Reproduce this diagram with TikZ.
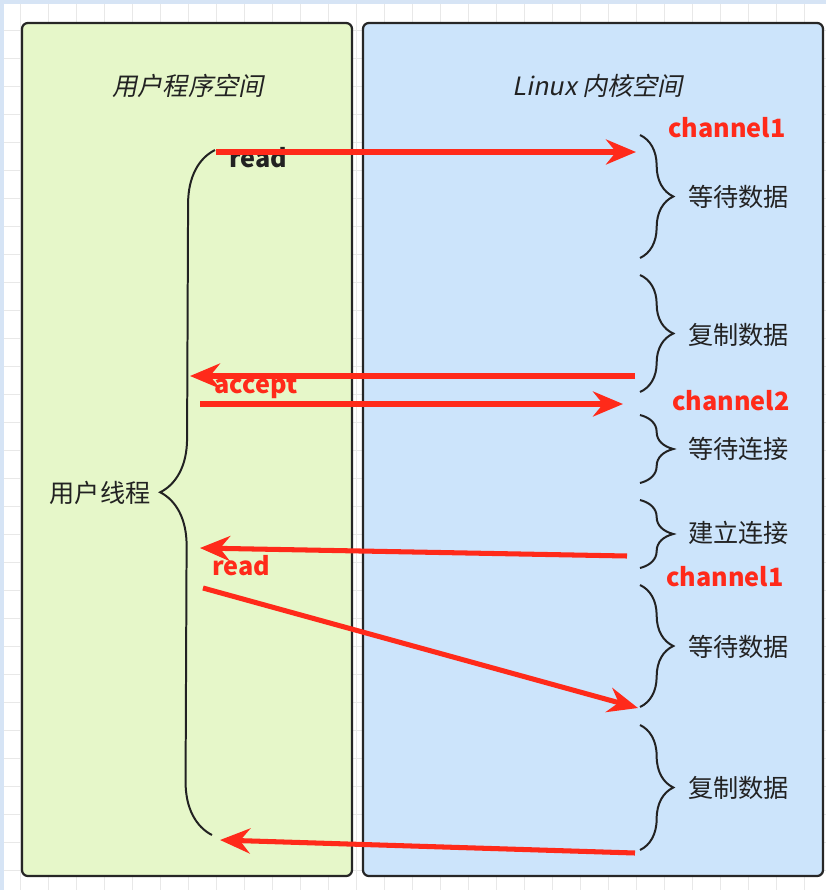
\documentclass[tikz,border=0pt]{standalone}
\usepackage{fontspec}
\usetikzlibrary{arrows.meta,decorations.pathreplacing}
\newfontfamily\cjk{Noto Sans CJK SC}
\newfontfamily\cjkit{Noto Sans CJK SC}[FakeSlant=0.2]
\definecolor{userfill}{HTML}{E6F7C9}
\definecolor{kernfill}{HTML}{CCE4FB}
\definecolor{arrowred}{HTML}{FF2A1A}
\definecolor{textgray}{HTML}{222222}
\definecolor{gridgray}{HTML}{E8E8E8}
\definecolor{bandblue}{HTML}{D6E4F5}

\begin{document}
\begin{tikzpicture}[x=0.03cm, y=-0.03cm,
  space box/.style={draw=black!85, line width=1.9pt, rounded corners=5pt},
  title node/.style={font=\cjkit\fontsize{21.5}{24}\selectfont, text=textgray},
  step node/.style={font=\cjk\fontsize{21.5}{24}\selectfont, text=textgray},
  chan node/.style={font=\cjk\bfseries\fontsize{21.5}{24}\selectfont, text=arrowred},
  call node/.style={font=\cjk\bfseries\fontsize{21.5}{24}\selectfont, text=arrowred},
  call arrow/.style={draw=arrowred, line width=4.3pt, -{Stealth[length=0.9cm,width=0.75cm,inset=0.3cm]}},
  kernel brace/.style={draw=textgray, line width=1.7pt, decorate, decoration={brace, amplitude=1cm}},
  user brace/.style={draw=textgray, line width=1.7pt, decorate, decoration={brace, amplitude=1.6cm}}]
\useasboundingbox (0,0) rectangle (826,890);
% grid behind
\foreach \gx in {20,48,...,826} \draw[gridgray] (\gx,0) -- (\gx,890);
\foreach \gy in {2,30,...,890} \draw[gridgray] (0,\gy) -- (826,\gy);
\fill[bandblue] (0,0) rectangle (826,4);
\fill[bandblue] (0,0) rectangle (4,890);
% the two spaces
\draw[space box, fill=userfill] (22,23) rectangle (352,876);
\draw[space box, fill=kernfill] (363,23) rectangle (823,876);
\begin{scope}
\node[title node] (tuser) at (188,86) {用户程序空间};
\node[title node] (tkern) at (598,86) {Linux 内核空间};
\node[step node] (thread) at (100,493) {用户线程};
\node[step node, anchor=west] (wait1) at (684,197) {等待数据};
\node[step node, anchor=west] (copy1) at (684,335) {复制数据};
\node[step node, anchor=west] (waitc) at (684,449) {等待连接};
\node[step node, anchor=west] (conn) at (684,533) {建立连接};
\node[step node, anchor=west] (wait2) at (684,647) {等待数据};
\node[step node, anchor=west] (copy2) at (684,788) {复制数据};
\node[chan node] (ch1a) at (727,128) {channel1};
\node[chan node] (ch2) at (731,401) {channel2};
\node[chan node] (ch1b) at (725,577) {channel1};
\node[step node, font=\cjk\bfseries\fontsize{21.5}{24}\selectfont] (read1) at (258,158) {read};
\node[call node] (accept) at (256,387) {accept};
\node[call node] (read2) at (241,566) {read};
\end{scope}
% brace ends and arrow ends
\coordinate (u0) at (212,835); \coordinate (u1) at (215,150);
\coordinate (k1a) at (640,135); \coordinate (k1b) at (640,258);
\coordinate (k2a) at (640,275); \coordinate (k2b) at (640,392);
\coordinate (k3a) at (640,415); \coordinate (k3b) at (640,483);
\coordinate (k4a) at (640,500); \coordinate (k4b) at (640,568);
\coordinate (k5a) at (640,585); \coordinate (k5b) at (640,707);
\coordinate (k6a) at (640,725); \coordinate (k6b) at (640,850);
\coordinate (a1s) at (216,152); \coordinate (a1e) at (636,152);
\coordinate (a2s) at (635,376); \coordinate (a2e) at (190,376);
\coordinate (a3s) at (200,404); \coordinate (a3e) at (623,404);
\coordinate (a4s) at (627,556); \coordinate (a4e) at (200,548);
\coordinate (a5s) at (203,588); \coordinate (a5e) at (638,708);
\coordinate (a6s) at (635,853); \coordinate (a6e) at (220,840);
\begin{scope}
\draw[user brace] (u0) -- (u1);
\draw[kernel brace] (k1a) -- (k1b);
\draw[kernel brace] (k2a) -- (k2b);
\draw[kernel brace] (k3a) -- (k3b);
\draw[kernel brace] (k4a) -- (k4b);
\draw[kernel brace] (k5a) -- (k5b);
\draw[kernel brace] (k6a) -- (k6b);
\end{scope}
\begin{scope}
\draw[call arrow] (a1s) -- (a1e);
\draw[call arrow] (a2s) -- (a2e);
\draw[call arrow] (a3s) -- (a3e);
\draw[call arrow] (a4s) -- (a4e);
\draw[call arrow] (a5s) -- (a5e);
\draw[call arrow] (a6s) -- (a6e);
\end{scope}
\end{tikzpicture}
\end{document}
